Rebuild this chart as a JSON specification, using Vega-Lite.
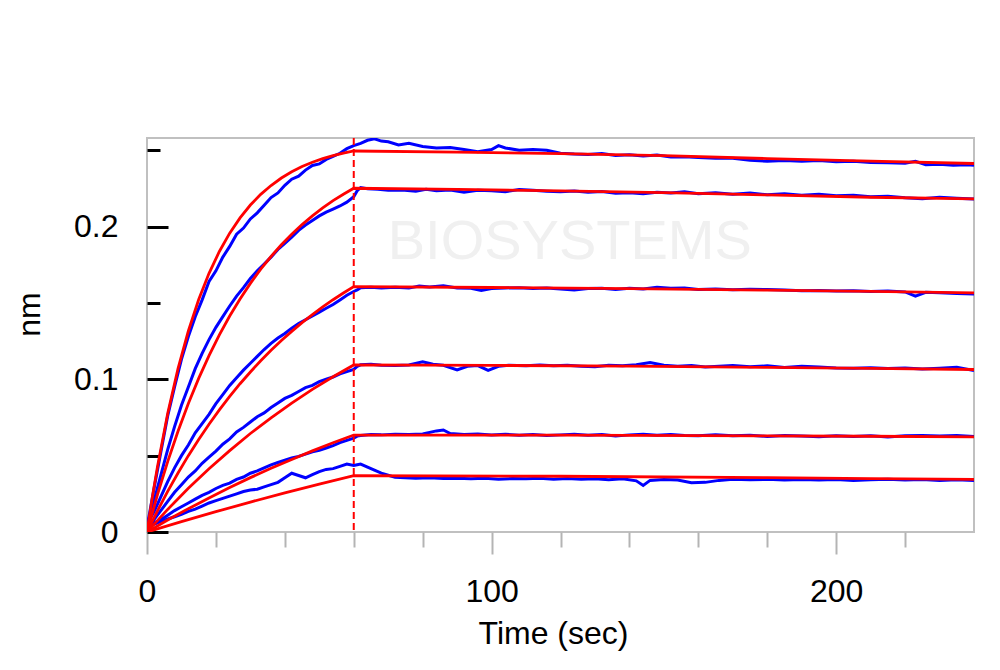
{
  "$schema": "https://vega.github.io/schema/vega-lite/v6.json",
  "width": 827,
  "height": 394,
  "autosize": {"type": "none"},
  "padding": {"left": 147, "top": 138, "right": 26, "bottom": 138},
  "background": "white",
  "config": {"view": {"stroke": "#c0c0c0", "strokeWidth": 2}, "font": "Liberation Sans"},
  "datasets": {
    "raw": [
      {"c":1,"t":0,"v":0.003},{"c":1,"t":2,"v":0.028},{"c":1,"t":4,"v":0.052},{"c":1,"t":6,"v":0.076},{"c":1,"t":8,"v":0.095},{"c":1,"t":10,"v":0.113},{"c":1,"t":12,"v":0.128},{"c":1,"t":14,"v":0.141},{"c":1,"t":16,"v":0.152},{"c":1,"t":18,"v":0.164},{"c":1,"t":20,"v":0.171},{"c":1,"t":22,"v":0.18},{"c":1,"t":24,"v":0.187},{"c":1,"t":26,"v":0.195},{"c":1,"t":28,"v":0.199},{"c":1,"t":30,"v":0.205},{"c":1,"t":32,"v":0.209},{"c":1,"t":34,"v":0.214},{"c":1,"t":36,"v":0.219},{"c":1,"t":38,"v":0.222},{"c":1,"t":40,"v":0.227},{"c":1,"t":42,"v":0.231},{"c":1,"t":44,"v":0.233},{"c":1,"t":46,"v":0.237},{"c":1,"t":48,"v":0.24},{"c":1,"t":50,"v":0.241},{"c":1,"t":52,"v":0.244},{"c":1,"t":54,"v":0.246},{"c":1,"t":56,"v":0.248},{"c":1,"t":58,"v":0.251},{"c":1,"t":60,"v":0.253},
      {"c":1,"t":62,"v":0.2545},{"c":1,"t":64,"v":0.2565},{"c":1,"t":66,"v":0.2575},{"c":1,"t":68,"v":0.256},{"c":1,"t":70,"v":0.2555},{"c":1,"t":73,"v":0.2535},{"c":1,"t":76,"v":0.2545},{"c":1,"t":80,"v":0.2525},{"c":1,"t":84,"v":0.2515},{"c":1,"t":88,"v":0.2518},{"c":1,"t":92,"v":0.2505},{"c":1,"t":96,"v":0.249},{"c":1,"t":100,"v":0.2505},{"c":1,"t":102,"v":0.253},{"c":1,"t":104,"v":0.2515},{"c":1,"t":108,"v":0.25},{"c":1,"t":112,"v":0.2505},{"c":1,"t":116,"v":0.25},{"c":1,"t":120,"v":0.248},{"c":1,"t":124,"v":0.2475},{"c":1,"t":128,"v":0.2472},{"c":1,"t":132,"v":0.2478},{"c":1,"t":136,"v":0.2465},{"c":1,"t":140,"v":0.247},{"c":1,"t":144,"v":0.2462},{"c":1,"t":148,"v":0.2468},{"c":1,"t":152,"v":0.2455},{"c":1,"t":156,"v":0.2458},{"c":1,"t":160,"v":0.2452},{"c":1,"t":165,"v":0.2448},{"c":1,"t":170,"v":0.2448},{"c":1,"t":175,"v":0.2435},{"c":1,"t":180,"v":0.2428},{"c":1,"t":185,"v":0.2432},{"c":1,"t":190,"v":0.2428},{"c":1,"t":195,"v":0.2432},{"c":1,"t":200,"v":0.2425},{"c":1,"t":205,"v":0.2428},{"c":1,"t":210,"v":0.242},{"c":1,"t":215,"v":0.2418},{"c":1,"t":220,"v":0.2415},{"c":1,"t":223,"v":0.2428},{"c":1,"t":226,"v":0.2405},{"c":1,"t":230,"v":0.2408},{"c":1,"t":234,"v":0.2402},{"c":1,"t":238,"v":0.2405},{"c":1,"t":240,"v":0.2402},
      {"c":2,"t":0,"v":0.004},{"c":2,"t":2,"v":0.02},{"c":2,"t":4,"v":0.037},{"c":2,"t":6,"v":0.054},{"c":2,"t":8,"v":0.069},{"c":2,"t":10,"v":0.083},{"c":2,"t":12,"v":0.095},{"c":2,"t":14,"v":0.107},{"c":2,"t":16,"v":0.117},{"c":2,"t":18,"v":0.126},{"c":2,"t":20,"v":0.134},{"c":2,"t":22,"v":0.141},{"c":2,"t":24,"v":0.148},{"c":2,"t":26,"v":0.1545},{"c":2,"t":28,"v":0.16},{"c":2,"t":30,"v":0.166},{"c":2,"t":32,"v":0.171},{"c":2,"t":34,"v":0.1755},{"c":2,"t":36,"v":0.18},{"c":2,"t":38,"v":0.185},{"c":2,"t":40,"v":0.189},{"c":2,"t":42,"v":0.193},{"c":2,"t":44,"v":0.1975},{"c":2,"t":46,"v":0.201},{"c":2,"t":48,"v":0.204},{"c":2,"t":50,"v":0.207},{"c":2,"t":52,"v":0.2095},{"c":2,"t":54,"v":0.2115},{"c":2,"t":56,"v":0.2135},{"c":2,"t":58,"v":0.216},{"c":2,"t":60,"v":0.2195},
      {"c":2,"t":61,"v":0.2235},{"c":2,"t":62,"v":0.2255},{"c":2,"t":64,"v":0.2248},{"c":2,"t":67,"v":0.2245},{"c":2,"t":70,"v":0.2238},{"c":2,"t":74,"v":0.224},{"c":2,"t":78,"v":0.2232},{"c":2,"t":81,"v":0.2245},{"c":2,"t":84,"v":0.2235},{"c":2,"t":88,"v":0.224},{"c":2,"t":92,"v":0.2225},{"c":2,"t":96,"v":0.2238},{"c":2,"t":100,"v":0.2235},{"c":2,"t":104,"v":0.2228},{"c":2,"t":108,"v":0.2242},{"c":2,"t":112,"v":0.2238},{"c":2,"t":116,"v":0.2232},{"c":2,"t":120,"v":0.2228},{"c":2,"t":124,"v":0.2233},{"c":2,"t":128,"v":0.2225},{"c":2,"t":132,"v":0.223},{"c":2,"t":136,"v":0.2218},{"c":2,"t":140,"v":0.2222},{"c":2,"t":144,"v":0.2215},{"c":2,"t":148,"v":0.2225},{"c":2,"t":152,"v":0.222},{"c":2,"t":156,"v":0.2228},{"c":2,"t":160,"v":0.2215},{"c":2,"t":165,"v":0.2222},{"c":2,"t":170,"v":0.2212},{"c":2,"t":175,"v":0.222},{"c":2,"t":180,"v":0.2208},{"c":2,"t":185,"v":0.2215},{"c":2,"t":190,"v":0.2205},{"c":2,"t":195,"v":0.2212},{"c":2,"t":200,"v":0.2202},{"c":2,"t":205,"v":0.2205},{"c":2,"t":210,"v":0.2195},{"c":2,"t":215,"v":0.2198},{"c":2,"t":220,"v":0.2188},{"c":2,"t":225,"v":0.2182},{"c":2,"t":230,"v":0.2192},{"c":2,"t":235,"v":0.2185},{"c":2,"t":240,"v":0.218},
      {"c":3,"t":0,"v":0.005},{"c":3,"t":2,"v":0.013},{"c":3,"t":4,"v":0.023},{"c":3,"t":6,"v":0.033},{"c":3,"t":8,"v":0.042},{"c":3,"t":10,"v":0.05},{"c":3,"t":12,"v":0.057},{"c":3,"t":14,"v":0.065},{"c":3,"t":16,"v":0.071},{"c":3,"t":18,"v":0.077},{"c":3,"t":20,"v":0.084},{"c":3,"t":22,"v":0.09},{"c":3,"t":24,"v":0.096},{"c":3,"t":26,"v":0.101},{"c":3,"t":28,"v":0.106},{"c":3,"t":30,"v":0.1105},{"c":3,"t":32,"v":0.115},{"c":3,"t":34,"v":0.1195},{"c":3,"t":36,"v":0.1235},{"c":3,"t":38,"v":0.127},{"c":3,"t":40,"v":0.13},{"c":3,"t":42,"v":0.1335},{"c":3,"t":44,"v":0.1365},{"c":3,"t":46,"v":0.139},{"c":3,"t":48,"v":0.1415},{"c":3,"t":50,"v":0.144},{"c":3,"t":52,"v":0.1465},{"c":3,"t":54,"v":0.149},{"c":3,"t":56,"v":0.152},{"c":3,"t":58,"v":0.155},{"c":3,"t":60,"v":0.1575},
      {"c":3,"t":61,"v":0.1585},{"c":3,"t":62,"v":0.16},{"c":3,"t":65,"v":0.1603},{"c":3,"t":68,"v":0.1598},{"c":3,"t":72,"v":0.1602},{"c":3,"t":76,"v":0.1597},{"c":3,"t":79,"v":0.161},{"c":3,"t":82,"v":0.1605},{"c":3,"t":86,"v":0.1612},{"c":3,"t":90,"v":0.1598},{"c":3,"t":94,"v":0.1596},{"c":3,"t":97,"v":0.1582},{"c":3,"t":100,"v":0.1595},{"c":3,"t":104,"v":0.1598},{"c":3,"t":108,"v":0.16},{"c":3,"t":112,"v":0.1594},{"c":3,"t":116,"v":0.1598},{"c":3,"t":120,"v":0.1592},{"c":3,"t":124,"v":0.1585},{"c":3,"t":128,"v":0.1594},{"c":3,"t":132,"v":0.1596},{"c":3,"t":136,"v":0.1588},{"c":3,"t":140,"v":0.1596},{"c":3,"t":144,"v":0.1592},{"c":3,"t":148,"v":0.1602},{"c":3,"t":152,"v":0.1596},{"c":3,"t":156,"v":0.1598},{"c":3,"t":160,"v":0.1588},{"c":3,"t":165,"v":0.1592},{"c":3,"t":170,"v":0.1586},{"c":3,"t":175,"v":0.159},{"c":3,"t":180,"v":0.1588},{"c":3,"t":185,"v":0.1584},{"c":3,"t":190,"v":0.158},{"c":3,"t":195,"v":0.1582},{"c":3,"t":200,"v":0.1578},{"c":3,"t":205,"v":0.158},{"c":3,"t":210,"v":0.1575},{"c":3,"t":215,"v":0.1578},{"c":3,"t":220,"v":0.1572},{"c":3,"t":223,"v":0.1545},{"c":3,"t":226,"v":0.157},{"c":3,"t":230,"v":0.1566},{"c":3,"t":235,"v":0.1562},{"c":3,"t":240,"v":0.1558},
      {"c":4,"t":0,"v":0.003},{"c":4,"t":2,"v":0.008},{"c":4,"t":4,"v":0.014},{"c":4,"t":6,"v":0.02},{"c":4,"t":8,"v":0.026},{"c":4,"t":10,"v":0.031},{"c":4,"t":12,"v":0.036},{"c":4,"t":14,"v":0.04},{"c":4,"t":16,"v":0.045},{"c":4,"t":18,"v":0.049},{"c":4,"t":20,"v":0.053},{"c":4,"t":22,"v":0.0575},{"c":4,"t":24,"v":0.061},{"c":4,"t":26,"v":0.0655},{"c":4,"t":28,"v":0.0685},{"c":4,"t":30,"v":0.072},{"c":4,"t":32,"v":0.0755},{"c":4,"t":34,"v":0.078},{"c":4,"t":36,"v":0.0815},{"c":4,"t":38,"v":0.0845},{"c":4,"t":40,"v":0.0875},{"c":4,"t":42,"v":0.0895},{"c":4,"t":44,"v":0.092},{"c":4,"t":46,"v":0.0945},{"c":4,"t":48,"v":0.096},{"c":4,"t":50,"v":0.0985},{"c":4,"t":52,"v":0.1},{"c":4,"t":54,"v":0.1015},{"c":4,"t":56,"v":0.1035},{"c":4,"t":58,"v":0.105},{"c":4,"t":60,"v":0.1065},
      {"c":4,"t":61,"v":0.1085},{"c":4,"t":62,"v":0.1095},{"c":4,"t":65,"v":0.1098},{"c":4,"t":68,"v":0.1092},{"c":4,"t":72,"v":0.109},{"c":4,"t":76,"v":0.1094},{"c":4,"t":80,"v":0.1115},{"c":4,"t":83,"v":0.1098},{"c":4,"t":86,"v":0.1092},{"c":4,"t":90,"v":0.1062},{"c":4,"t":93,"v":0.1085},{"c":4,"t":96,"v":0.109},{"c":4,"t":99,"v":0.1058},{"c":4,"t":102,"v":0.1085},{"c":4,"t":105,"v":0.1092},{"c":4,"t":110,"v":0.1088},{"c":4,"t":114,"v":0.1094},{"c":4,"t":118,"v":0.1088},{"c":4,"t":122,"v":0.1092},{"c":4,"t":126,"v":0.1086},{"c":4,"t":130,"v":0.1082},{"c":4,"t":134,"v":0.1092},{"c":4,"t":138,"v":0.1088},{"c":4,"t":142,"v":0.1095},{"c":4,"t":146,"v":0.111},{"c":4,"t":150,"v":0.1092},{"c":4,"t":154,"v":0.1086},{"c":4,"t":158,"v":0.109},{"c":4,"t":162,"v":0.108},{"c":4,"t":166,"v":0.1085},{"c":4,"t":170,"v":0.109},{"c":4,"t":175,"v":0.1082},{"c":4,"t":180,"v":0.1088},{"c":4,"t":185,"v":0.1078},{"c":4,"t":190,"v":0.1085},{"c":4,"t":195,"v":0.108},{"c":4,"t":200,"v":0.1074},{"c":4,"t":205,"v":0.1072},{"c":4,"t":210,"v":0.1076},{"c":4,"t":215,"v":0.107},{"c":4,"t":220,"v":0.1074},{"c":4,"t":225,"v":0.1068},{"c":4,"t":230,"v":0.1072},{"c":4,"t":235,"v":0.1078},{"c":4,"t":240,"v":0.1058},
      {"c":5,"t":0,"v":0.002},{"c":5,"t":2,"v":0.006},{"c":5,"t":4,"v":0.008},{"c":5,"t":6,"v":0.011},{"c":5,"t":8,"v":0.014},{"c":5,"t":10,"v":0.0165},{"c":5,"t":12,"v":0.019},{"c":5,"t":14,"v":0.0215},{"c":5,"t":16,"v":0.024},{"c":5,"t":18,"v":0.026},{"c":5,"t":20,"v":0.0285},{"c":5,"t":22,"v":0.0305},{"c":5,"t":24,"v":0.032},{"c":5,"t":26,"v":0.0345},{"c":5,"t":28,"v":0.036},{"c":5,"t":30,"v":0.0385},{"c":5,"t":32,"v":0.04},{"c":5,"t":34,"v":0.042},{"c":5,"t":36,"v":0.044},{"c":5,"t":38,"v":0.0455},{"c":5,"t":40,"v":0.047},{"c":5,"t":42,"v":0.0485},{"c":5,"t":44,"v":0.0495},{"c":5,"t":46,"v":0.051},{"c":5,"t":48,"v":0.0525},{"c":5,"t":50,"v":0.0535},{"c":5,"t":52,"v":0.055},{"c":5,"t":54,"v":0.0565},{"c":5,"t":56,"v":0.0585},{"c":5,"t":58,"v":0.06},{"c":5,"t":60,"v":0.0615},
      {"c":5,"t":61,"v":0.0628},{"c":5,"t":62,"v":0.0632},{"c":5,"t":65,"v":0.0638},{"c":5,"t":68,"v":0.0636},{"c":5,"t":72,"v":0.064},{"c":5,"t":76,"v":0.0638},{"c":5,"t":80,"v":0.0642},{"c":5,"t":84,"v":0.0662},{"c":5,"t":86,"v":0.0668},{"c":5,"t":88,"v":0.0645},{"c":5,"t":92,"v":0.0638},{"c":5,"t":96,"v":0.0642},{"c":5,"t":100,"v":0.0636},{"c":5,"t":104,"v":0.064},{"c":5,"t":108,"v":0.0634},{"c":5,"t":112,"v":0.0638},{"c":5,"t":116,"v":0.0632},{"c":5,"t":120,"v":0.0636},{"c":5,"t":124,"v":0.064},{"c":5,"t":128,"v":0.0634},{"c":5,"t":132,"v":0.0638},{"c":5,"t":136,"v":0.0628},{"c":5,"t":140,"v":0.0636},{"c":5,"t":144,"v":0.064},{"c":5,"t":148,"v":0.0634},{"c":5,"t":152,"v":0.0638},{"c":5,"t":156,"v":0.0632},{"c":5,"t":160,"v":0.063},{"c":5,"t":165,"v":0.0636},{"c":5,"t":170,"v":0.063},{"c":5,"t":175,"v":0.0634},{"c":5,"t":180,"v":0.0626},{"c":5,"t":185,"v":0.0632},{"c":5,"t":190,"v":0.0628},{"c":5,"t":195,"v":0.0624},{"c":5,"t":200,"v":0.063},{"c":5,"t":205,"v":0.0626},{"c":5,"t":210,"v":0.063},{"c":5,"t":215,"v":0.0622},{"c":5,"t":220,"v":0.063},{"c":5,"t":225,"v":0.0632},{"c":5,"t":230,"v":0.0628},{"c":5,"t":235,"v":0.0632},{"c":5,"t":240,"v":0.0626},
      {"c":6,"t":0,"v":0.002},{"c":6,"t":2,"v":0.005},{"c":6,"t":4,"v":0.007},{"c":6,"t":6,"v":0.0085},{"c":6,"t":8,"v":0.01},{"c":6,"t":10,"v":0.0115},{"c":6,"t":12,"v":0.0135},{"c":6,"t":14,"v":0.015},{"c":6,"t":16,"v":0.017},{"c":6,"t":18,"v":0.019},{"c":6,"t":20,"v":0.0205},{"c":6,"t":22,"v":0.022},{"c":6,"t":24,"v":0.0235},{"c":6,"t":26,"v":0.025},{"c":6,"t":28,"v":0.0265},{"c":6,"t":30,"v":0.0275},{"c":6,"t":32,"v":0.028},{"c":6,"t":34,"v":0.0295},{"c":6,"t":36,"v":0.031},{"c":6,"t":38,"v":0.0325},{"c":6,"t":40,"v":0.0355},{"c":6,"t":42,"v":0.0385},{"c":6,"t":44,"v":0.037},{"c":6,"t":46,"v":0.0355},{"c":6,"t":48,"v":0.0375},{"c":6,"t":50,"v":0.0395},{"c":6,"t":52,"v":0.041},{"c":6,"t":54,"v":0.0415},{"c":6,"t":56,"v":0.043},{"c":6,"t":58,"v":0.0445},{"c":6,"t":60,"v":0.0435},
      {"c":6,"t":61,"v":0.044},{"c":6,"t":62,"v":0.0445},{"c":6,"t":64,"v":0.0425},{"c":6,"t":66,"v":0.0405},{"c":6,"t":68,"v":0.0385},{"c":6,"t":70,"v":0.0372},{"c":6,"t":72,"v":0.0358},{"c":6,"t":75,"v":0.0355},{"c":6,"t":78,"v":0.0352},{"c":6,"t":82,"v":0.0355},{"c":6,"t":86,"v":0.035},{"c":6,"t":90,"v":0.0352},{"c":6,"t":94,"v":0.0348},{"c":6,"t":98,"v":0.0352},{"c":6,"t":102,"v":0.0346},{"c":6,"t":106,"v":0.035},{"c":6,"t":110,"v":0.0348},{"c":6,"t":114,"v":0.0352},{"c":6,"t":118,"v":0.0346},{"c":6,"t":122,"v":0.035},{"c":6,"t":126,"v":0.0345},{"c":6,"t":130,"v":0.0348},{"c":6,"t":134,"v":0.0342},{"c":6,"t":138,"v":0.0348},{"c":6,"t":142,"v":0.0335},{"c":6,"t":144,"v":0.0305},{"c":6,"t":146,"v":0.0338},{"c":6,"t":150,"v":0.0344},{"c":6,"t":154,"v":0.034},{"c":6,"t":158,"v":0.0322},{"c":6,"t":162,"v":0.0325},{"c":6,"t":166,"v":0.0338},{"c":6,"t":170,"v":0.0345},{"c":6,"t":175,"v":0.0342},{"c":6,"t":180,"v":0.0345},{"c":6,"t":185,"v":0.034},{"c":6,"t":190,"v":0.0344},{"c":6,"t":195,"v":0.034},{"c":6,"t":200,"v":0.0344},{"c":6,"t":205,"v":0.0338},{"c":6,"t":210,"v":0.0342},{"c":6,"t":215,"v":0.0346},{"c":6,"t":220,"v":0.034},{"c":6,"t":225,"v":0.0344},{"c":6,"t":230,"v":0.0338},{"c":6,"t":235,"v":0.0342},{"c":6,"t":240,"v":0.0338}
    ],
    "fit": [
      {"c":1,"t":0,"v":0},{"c":1,"t":1.5,"v":0.0221},{"c":1,"t":3,"v":0.0423},{"c":1,"t":6,"v":0.0775},{"c":1,"t":9,"v":0.107},{"c":1,"t":12,"v":0.1316},{"c":1,"t":15,"v":0.1522},{"c":1,"t":18,"v":0.1694},{"c":1,"t":21,"v":0.1837},{"c":1,"t":24,"v":0.1957},{"c":1,"t":27,"v":0.2057},{"c":1,"t":30,"v":0.2141},{"c":1,"t":33,"v":0.2211},{"c":1,"t":36,"v":0.2269},{"c":1,"t":39,"v":0.2318},{"c":1,"t":42,"v":0.2359},{"c":1,"t":45,"v":0.2393},{"c":1,"t":48,"v":0.2421},{"c":1,"t":51,"v":0.2445},{"c":1,"t":54,"v":0.2465},{"c":1,"t":57,"v":0.2481},{"c":1,"t":60,"v":0.2495},{"c":1,"t":90,"v":0.2488},{"c":1,"t":120,"v":0.2478},{"c":1,"t":150,"v":0.2465},{"c":1,"t":180,"v":0.2445},{"c":1,"t":210,"v":0.2428},{"c":1,"t":240,"v":0.2413},
      {"c":2,"t":0,"v":0},{"c":2,"t":3,"v":0.0241},{"c":2,"t":6,"v":0.0461},{"c":2,"t":9,"v":0.066},{"c":2,"t":12,"v":0.0841},{"c":2,"t":15,"v":0.1006},{"c":2,"t":18,"v":0.1155},{"c":2,"t":21,"v":0.1291},{"c":2,"t":24,"v":0.1414},{"c":2,"t":27,"v":0.1526},{"c":2,"t":30,"v":0.1628},{"c":2,"t":33,"v":0.1721},{"c":2,"t":36,"v":0.1804},{"c":2,"t":39,"v":0.1881},{"c":2,"t":42,"v":0.195},{"c":2,"t":45,"v":0.2013},{"c":2,"t":48,"v":0.207},{"c":2,"t":51,"v":0.2122},{"c":2,"t":54,"v":0.217},{"c":2,"t":57,"v":0.2212},{"c":2,"t":60,"v":0.2251},{"c":2,"t":90,"v":0.2243},{"c":2,"t":120,"v":0.2234},{"c":2,"t":150,"v":0.2222},{"c":2,"t":180,"v":0.2207},{"c":2,"t":210,"v":0.2192},{"c":2,"t":240,"v":0.2181},
      {"c":3,"t":0,"v":0},{"c":3,"t":3,"v":0.0137},{"c":3,"t":6,"v":0.0266},{"c":3,"t":9,"v":0.0386},{"c":3,"t":12,"v":0.05},{"c":3,"t":15,"v":0.0606},{"c":3,"t":18,"v":0.0706},{"c":3,"t":21,"v":0.08},{"c":3,"t":24,"v":0.0888},{"c":3,"t":27,"v":0.0971},{"c":3,"t":30,"v":0.1048},{"c":3,"t":33,"v":0.1121},{"c":3,"t":36,"v":0.119},{"c":3,"t":39,"v":0.1254},{"c":3,"t":42,"v":0.1314},{"c":3,"t":45,"v":0.1371},{"c":3,"t":48,"v":0.1424},{"c":3,"t":51,"v":0.1474},{"c":3,"t":54,"v":0.1521},{"c":3,"t":57,"v":0.1565},{"c":3,"t":60,"v":0.1607},{"c":3,"t":100,"v":0.1601},{"c":3,"t":140,"v":0.1594},{"c":3,"t":180,"v":0.1584},{"c":3,"t":210,"v":0.1576},{"c":3,"t":240,"v":0.1566},
      {"c":4,"t":0,"v":0},{"c":4,"t":6,"v":0.0148},{"c":4,"t":12,"v":0.0286},{"c":4,"t":18,"v":0.0414},{"c":4,"t":24,"v":0.0533},{"c":4,"t":30,"v":0.0645},{"c":4,"t":36,"v":0.0748},{"c":4,"t":42,"v":0.0844},{"c":4,"t":48,"v":0.0934},{"c":4,"t":54,"v":0.1017},{"c":4,"t":60,"v":0.1094},{"c":4,"t":100,"v":0.1091},{"c":4,"t":140,"v":0.1086},{"c":4,"t":180,"v":0.1078},{"c":4,"t":210,"v":0.1072},{"c":4,"t":240,"v":0.1064},
      {"c":5,"t":0,"v":0},{"c":5,"t":6,"v":0.0078},{"c":5,"t":12,"v":0.0153},{"c":5,"t":18,"v":0.0223},{"c":5,"t":24,"v":0.0291},{"c":5,"t":30,"v":0.0356},{"c":5,"t":36,"v":0.0417},{"c":5,"t":42,"v":0.0475},{"c":5,"t":48,"v":0.0531},{"c":5,"t":54,"v":0.0584},{"c":5,"t":60,"v":0.0635},{"c":5,"t":120,"v":0.0634},{"c":5,"t":180,"v":0.063},{"c":5,"t":210,"v":0.0627},{"c":5,"t":240,"v":0.0623},
      {"c":6,"t":0,"v":0},{"c":6,"t":10,"v":0.0068},{"c":6,"t":20,"v":0.0133},{"c":6,"t":30,"v":0.0196},{"c":6,"t":40,"v":0.0256},{"c":6,"t":50,"v":0.0314},{"c":6,"t":60,"v":0.0369},{"c":6,"t":120,"v":0.0365},{"c":6,"t":180,"v":0.0356},{"c":6,"t":210,"v":0.035},{"c":6,"t":240,"v":0.0344}
    ],
    "marker": [{"t": 60}],
    "mark": [{"t": 122.7, "v": 0.19, "w": "BIOSYSTEMS"}]
  },
  "layer": [
    {
      "data": {"name": "mark"},
      "mark": {"type": "text", "font": "Liberation Sans", "fontSize": 56, "color": "#f0f0f0"},
      "encoding": {
        "x": {"field": "t", "type": "quantitative", "scale": {"domain": [0, 240], "nice": false, "zero": false}},
        "y": {"field": "v", "type": "quantitative", "scale": {"domain": [0, 0.258], "nice": false, "zero": false}},
        "text": {"field": "w"}
      }
    },
    {
      "data": {"name": "raw"},
      "mark": {"type": "line", "color": "#0000ff", "strokeWidth": 3, "clip": true},
      "encoding": {
        "x": {
          "field": "t", "type": "quantitative",
          "scale": {"domain": [0, 240], "nice": false, "zero": false},
          "axis": {
            "values": [0, 20, 40, 60, 80, 100, 120, 140, 160, 180, 200, 220],
            "title": "Time (sec)", "domain": false, "grid": false,
            "tickColor": "#b4b4b4", "tickWidth": 2,
            "tickSize": {"condition": {"test": "datum.value % 100 === 0", "value": 22}, "value": 15},
            "labelExpr": "datum.value % 100 === 0 ? datum.label : ''",
            "labelFlush": false,
            "labelFont": "Liberation Sans", "labelFontSize": 32, "labelColor": "#000000", "labelPadding": 22,
            "titleFont": "Liberation Sans", "titleFontSize": 32, "titleFontWeight": "normal", "titleColor": "#000000",
            "titleX": 406, "titleY": 86, "titleBaseline": "top"
          }
        },
        "y": {
          "field": "v", "type": "quantitative",
          "scale": {"domain": [0, 0.258], "nice": false, "zero": false},
          "axis": {
            "values": [0, 0.05, 0.1, 0.15, 0.2, 0.25],
            "format": "~g",
            "title": "nm", "domain": false, "grid": false,
            "tickColor": "#000000", "tickWidth": 3,
            "tickSize": {"condition": {"test": "datum.value === 0 || datum.value === 0.1 || datum.value === 0.2", "value": -21}, "value": -13},
            "labelExpr": "datum.value === 0 || datum.value === 0.1 || datum.value === 0.2 ? datum.label : ''",
            "labelFlush": false,
            "labelFont": "Liberation Sans", "labelFontSize": 32, "labelColor": "#000000", "labelPadding": 50,
            "titleFont": "Liberation Sans", "titleFontSize": 32, "titleFontWeight": "normal", "titleColor": "#000000",
            "titlePadding": 27, "titleY": 176
          }
        },
        "detail": {"field": "c"}
      }
    },
    {
      "data": {"name": "fit"},
      "mark": {"type": "line", "color": "#ff0000", "strokeWidth": 2.8, "clip": true},
      "encoding": {
        "x": {"field": "t", "type": "quantitative", "scale": {"domain": [0, 240], "nice": false, "zero": false}},
        "y": {"field": "v", "type": "quantitative", "scale": {"domain": [0, 0.258], "nice": false, "zero": false}},
        "detail": {"field": "c"}
      }
    },
    {
      "data": {"name": "marker"},
      "mark": {"type": "rule", "color": "#ff0000", "strokeWidth": 2, "strokeDash": [7, 4]},
      "encoding": {
        "x": {"field": "t", "type": "quantitative", "scale": {"domain": [0, 240], "nice": false, "zero": false}}
      }
    }
  ]
}
